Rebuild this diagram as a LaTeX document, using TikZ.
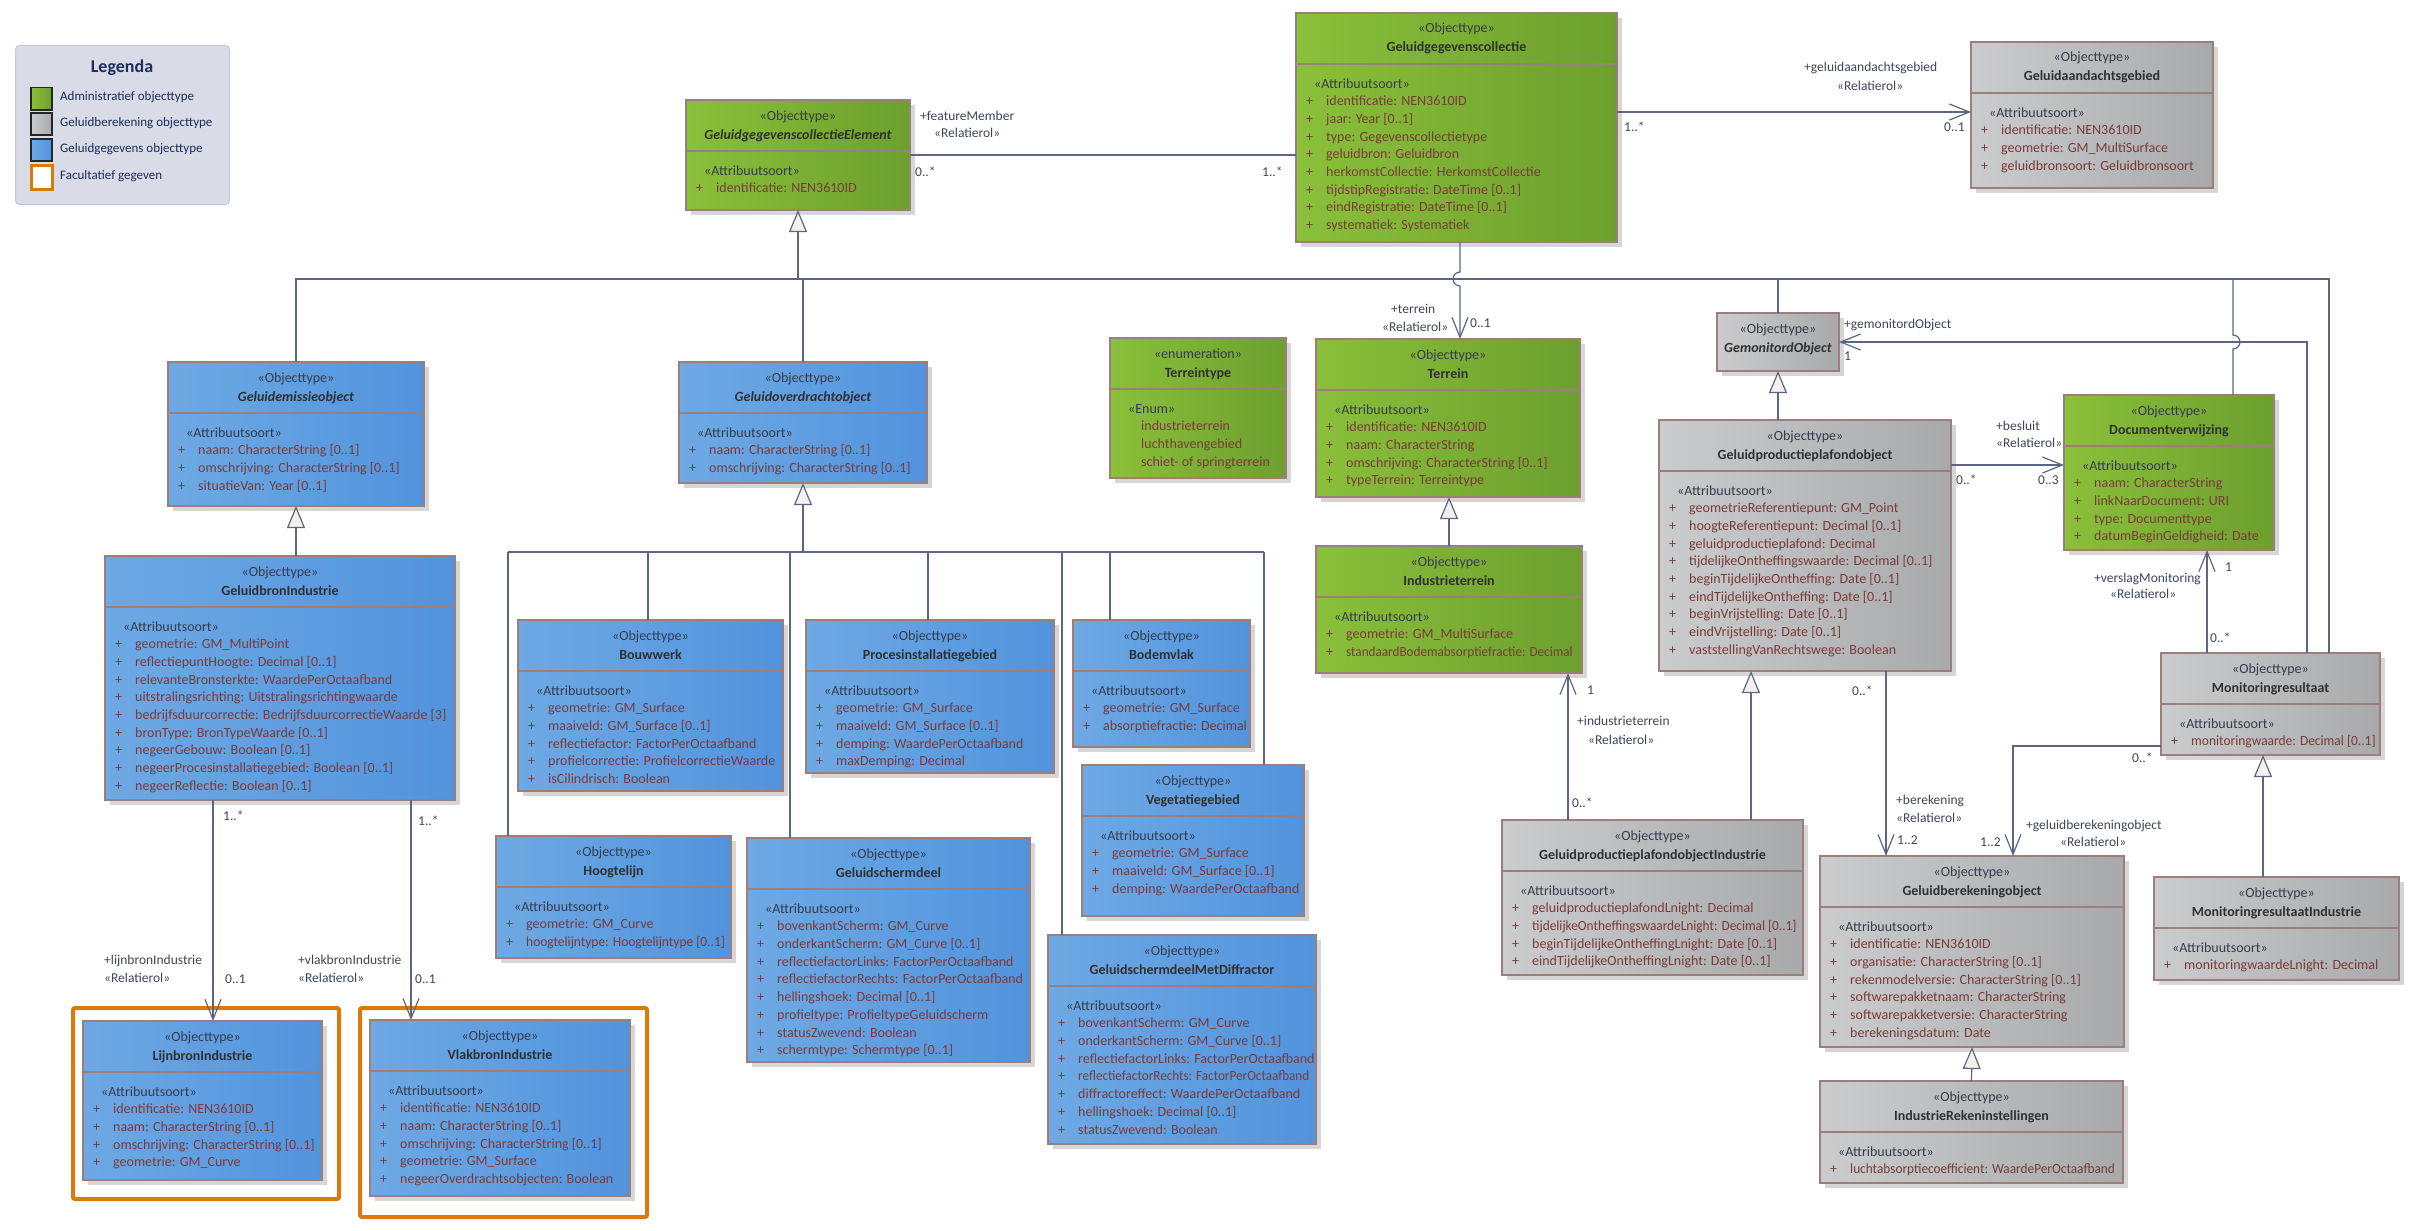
\documentclass[tikz,border=0pt]{standalone}
\usepackage{fontspec}
\setmainfont{Carlito}
\usepackage{graphicx}
\usepackage{tikz}
\usetikzlibrary{arrows.meta,calc,shadows}
\definecolor{eagreenL}{HTML}{8AC03A}
\definecolor{eagreenR}{HTML}{6C9F2E}
\definecolor{eablueL}{HTML}{6EA9E4}
\definecolor{eablueR}{HTML}{5193DD}
\definecolor{eagreyL}{HTML}{CBCCCE}
\definecolor{eagreyR}{HTML}{A8A9AB}
\definecolor{rand}{HTML}{9E7E7A}
\definecolor{verbinding}{HTML}{5B6782}
\definecolor{driehoek}{HTML}{F7EFEC}
\definecolor{attkleur}{HTML}{7A3B3B}
\definecolor{sterkleur}{HTML}{363C4C}
\definecolor{titelkleur}{HTML}{303030}
\definecolor{labelkleur}{HTML}{3F4656}
\definecolor{oranje}{HTML}{D97A0A}
\definecolor{legbg}{HTML}{D9DCE6}
\definecolor{legrand}{HTML}{C4C8D6}
\definecolor{legtekst}{HTML}{1C2C5C}
\tikzset{
  % klassen
  klasse/.style={anchor=north west,inner sep=0pt,outer sep=0pt,draw=rand,line width=2pt,
                 drop shadow={shadow xshift=5pt,shadow yshift=-5pt,fill=black!16,opacity=1}},
  groen/.style={klasse,left color=eagreenL,right color=eagreenR},
  blauw/.style={klasse,line width=1.5pt,left color=eablueL,right color=eablueR},
  grijs/.style={klasse,left color=eagreyL,right color=eagreyR},
  deler/.style={draw=rand,line width=1.5pt},
  stereo/.style={anchor=base,inner sep=0pt,font=\fontsize{14}{17.7}\selectfont,text=sterkleur},
  titel/.style={stereo,font=\fontsize{14}{17.7}\selectfont\bfseries,text=titelkleur},
  attrs/.style={anchor=north west,inner sep=0pt,align=left,
                font=\fontsize{14}{17.7}\selectfont,text=attkleur},
  facult/.style={anchor=north west,draw=oranje,line width=4pt,rounded corners=2pt,
                 fill=white,inner sep=0pt},
  % verbindingen
  con/.style={draw=verbinding,line width=1.2pt},
  gen/.style={con,-{Triangle[length=22pt,width=18pt,fill=driehoek]}},
  asso/.style={con,-{Straight Barb[length=20pt,width=16pt]}},
  lbl/.style={anchor=base west,inner sep=0pt,font=\fontsize{13.5}{16}\selectfont,text=labelkleur},
  % legenda
  staal/.style={anchor=north west,minimum width=21pt,minimum height=22pt,inner sep=0pt,
                draw=black!85,line width=1.5pt},
  legtxt/.style={anchor=west,inner sep=0pt,font=\fontsize{13}{15}\selectfont,text=legtekst},
}
\newcommand\attsoort{\hspace*{8pt}\textcolor{sterkleur}{«Attribuutsoort»}\strut}
\newcommand\kenmerk[1]{\makebox[20pt][l]{+}#1}
\newcommand\krap[2]{\scalebox{#1}[1]{#2}}
\newcommand\waarde[1]{\hspace*{21pt}#1}
\newcommand\kop[7]{%
  \node[#2,minimum width=#4pt,minimum height=#5pt] (#1) at (#3) {};
  \node[stereo] (#1-s) at ($(#1.north)+(0,20)$) {#6};
  \node[titel] (#1-t) at ($(#1.north)+(0,39)$) {#7};
}
\newcommand\klasse[8]{%
  \kop{#1}{#2}{#3}{#4}{#5}{#6}{#7}
  \draw[deler] ($(#1.north west)+(0,51)$) -- ($(#1.north east)+(0,51)$);
  \node[attrs] (#1-a) at ($(#1.north west)+(10,62.5)$) {#8};
}

\begin{document}
\begin{tikzpicture}[x=1pt,y=-1pt]
  \useasboundingbox (0,0) rectangle (2421,1231);
  \fill[white] (0,0) rectangle (2421,1231);

  % legenda
  \node[anchor=north west,minimum width=214pt,minimum height=159pt,inner sep=0pt,
        fill=legbg,draw=legrand,line width=1pt,rounded corners=4pt] (legenda) at (15,45) {};
  \node[font=\fontsize{18}{20}\selectfont\bfseries,text=legtekst] (legkop) at (122,68) {Legenda};
  \node[staal,left color=eagreenL,right color=eagreenR] (st1) at (30,87) {};
  \node[staal,left color=eagreyL,right color=eagreyR] (st2) at (30,112) {};
  \node[staal,left color=eablueL,right color=eablueR] (st3) at (30,138) {};
  \node[staal,draw=oranje,line width=3pt,fill=white,minimum height=24pt] (st4) at (30,164) {};
  \node[legtxt] (lt1) at (60,97) {Administratief objecttype};
  \node[legtxt] (lt2) at (60,123) {Geluidberekening objecttype};
  \node[legtxt] (lt3) at (60,149) {Geluidgegevens objecttype};
  \node[legtxt] (lt4) at (60,176) {Facultatief gegeven};

  % facultatieve kaders
  \node[facult,minimum width=266pt,minimum height=191pt] (lijnkader) at (71,1006) {};
  \node[facult,minimum width=287pt,minimum height=209pt] (vlakkader) at (358,1006) {};

  % klassen
  \klasse{ggce}{groen}{686,100}{224}{110}{«Objecttype»}{\textit{GeluidgegevenscollectieElement}}
    {\attsoort\\ \kenmerk{identificatie: NEN3610ID}}
  \klasse{gcol}{groen}{1296,13}{321}{229}{«Objecttype»}{Geluidgegevenscollectie}
    {\attsoort\\ \kenmerk{identificatie: NEN3610ID}\\ \kenmerk{jaar: Year [0..1]}\\
     \kenmerk{type: Gegevenscollectietype}\\ \kenmerk{geluidbron: Geluidbron}\\
     \kenmerk{herkomstCollectie: HerkomstCollectie}\\ \kenmerk{tijdstipRegistratie: DateTime [0..1]}\\
     \kenmerk{eindRegistratie: DateTime [0..1]}\\ \kenmerk{systematiek: Systematiek}}
  \klasse{gaag}{grijs}{1971,42}{242}{146}{«Objecttype»}{Geluidaandachtsgebied}
    {\attsoort\\ \kenmerk{identificatie: NEN3610ID}\\ \kenmerk{geometrie: GM\_MultiSurface}\\
     \kenmerk{geluidbronsoort: Geluidbronsoort}}
  \klasse{emis}{blauw}{168,362}{256}{144}{«Objecttype»}{\textit{Geluidemissieobject}}
    {\attsoort\\ \kenmerk{naam: CharacterString [0..1]}\\ \kenmerk{omschrijving: CharacterString [0..1]}\\
     \kenmerk{situatieVan: Year [0..1]}}
  \klasse{ovd}{blauw}{679,362}{248}{121}{«Objecttype»}{\textit{Geluidoverdrachtobject}}
    {\attsoort\\ \kenmerk{naam: CharacterString [0..1]}\\ \kenmerk{omschrijving: CharacterString [0..1]}}
  \klasse{gbi}{blauw}{105,556}{350}{244}{«Objecttype»}{GeluidbronIndustrie}
    {\attsoort\\ \kenmerk{geometrie: GM\_MultiPoint}\\ \kenmerk{reflectiepuntHoogte: Decimal [0..1]}\\
     \kenmerk{relevanteBronsterkte: WaardePerOctaafband}\\
     \kenmerk{uitstralingsrichting: Uitstralingsrichtingwaarde}\\
     \kenmerk{bedrijfsduurcorrectie: BedrijfsduurcorrectieWaarde [3]}\\
     \kenmerk{bronType: BronTypeWaarde [0..1]}\\ \kenmerk{negeerGebouw: Boolean [0..1]}\\
     \kenmerk{negeerProcesinstallatiegebied: Boolean [0..1]}\\ \kenmerk{negeerReflectie: Boolean [0..1]}}
  \klasse{bouw}{blauw}{518,620}{265}{171}{«Objecttype»}{Bouwwerk}
    {\attsoort\\ \kenmerk{geometrie: GM\_Surface}\\ \kenmerk{maaiveld: GM\_Surface [0..1]}\\
     \kenmerk{reflectiefactor: FactorPerOctaafband}\\ \kenmerk{profielcorrectie: ProfielcorrectieWaarde}\\
     \kenmerk{isCilindrisch: Boolean}}
  \klasse{proc}{blauw}{806,620}{248}{153}{«Objecttype»}{Procesinstallatiegebied}
    {\attsoort\\ \kenmerk{geometrie: GM\_Surface}\\ \kenmerk{maaiveld: GM\_Surface [0..1]}\\
     \kenmerk{demping: WaardePerOctaafband}\\ \kenmerk{maxDemping: Decimal}}
  \klasse{bodem}{blauw}{1073,620}{177}{127}{«Objecttype»}{Bodemvlak}
    {\attsoort\\ \kenmerk{geometrie: GM\_Surface}\\ \kenmerk{absorptiefractie: Decimal}}
  \klasse{veg}{blauw}{1082,765}{222}{151}{«Objecttype»}{Vegetatiegebied}
    {\attsoort\\ \kenmerk{geometrie: GM\_Surface}\\ \kenmerk{maaiveld: GM\_Surface [0..1]}\\
     \kenmerk{demping: WaardePerOctaafband}}
  \klasse{hoog}{blauw}{496,836}{235}{122}{«Objecttype»}{Hoogtelijn}
    {\attsoort\\ \kenmerk{geometrie: GM\_Curve}\\ \kenmerk{\krap{0.96}{hoogtelijntype: Hoogtelijntype [0..1]}}}
  \klasse{gsd}{blauw}{747,838}{283}{224}{«Objecttype»}{Geluidschermdeel}
    {\attsoort\\ \kenmerk{bovenkantScherm: GM\_Curve}\\ \kenmerk{onderkantScherm: GM\_Curve [0..1]}\\
     \kenmerk{reflectiefactorLinks: FactorPerOctaafband}\\ \kenmerk{reflectiefactorRechts: FactorPerOctaafband}\\
     \kenmerk{hellingshoek: Decimal [0..1]}\\ \kenmerk{profieltype: ProfieltypeGeluidscherm}\\
     \kenmerk{statusZwevend: Boolean}\\ \kenmerk{schermtype: Schermtype [0..1]}}
  \klasse{gsmd}{blauw}{1048,935}{268}{209}{«Objecttype»}{GeluidschermdeelMetDiffractor}
    {\attsoort\\ \kenmerk{bovenkantScherm: GM\_Curve}\\ \kenmerk{onderkantScherm: GM\_Curve [0..1]}\\
     \kenmerk{reflectiefactorLinks: FactorPerOctaafband}\\
     \kenmerk{\krap{0.94}{reflectiefactorRechts: FactorPerOctaafband}}\\
     \kenmerk{diffractoreffect: WaardePerOctaafband}\\ \kenmerk{hellingshoek: Decimal [0..1]}\\
     \kenmerk{statusZwevend: Boolean}}
  \klasse{ttype}{groen}{1110,338}{176}{140}{«enumeration»}{Terreintype}
    {\hspace*{8pt}\textcolor{sterkleur}{«Enum»}\strut\\ \waarde{industrieterrein}\\
     \waarde{luchthavengebied}\\ \waarde{schiet- of springterrein}}
  \klasse{terrein}{groen}{1316,339}{264}{158}{«Objecttype»}{Terrein}
    {\attsoort\\ \kenmerk{identificatie: NEN3610ID}\\ \kenmerk{naam: CharacterString}\\
     \kenmerk{omschrijving: CharacterString [0..1]}\\ \kenmerk{typeTerrein: Terreintype}}
  \klasse{indt}{groen}{1316,546}{266}{127}{«Objecttype»}{Industrieterrein}
    {\attsoort\\ \kenmerk{geometrie: GM\_MultiSurface}\\
     \kenmerk{\krap{0.94}{standaardBodemabsorptiefractie: Decimal}}}
  \kop{gemon}{grijs}{1717,313}{122}{58}{«Objecttype»}{\textit{GemonitordObject}}
  \klasse{gppo}{grijs}{1659,420}{292}{251}{«Objecttype»}{Geluidproductieplafondobject}
    {\attsoort\\ \kenmerk{geometrieReferentiepunt: GM\_Point}\\ \kenmerk{hoogteReferentiepunt: Decimal [0..1]}\\
     \kenmerk{geluidproductieplafond: Decimal}\\ \kenmerk{tijdelijkeOntheffingswaarde: Decimal [0..1]}\\
     \kenmerk{beginTijdelijkeOntheffing: Date [0..1]}\\ \kenmerk{eindTijdelijkeOntheffing: Date [0..1]}\\
     \kenmerk{beginVrijstelling: Date [0..1]}\\ \kenmerk{eindVrijstelling: Date [0..1]}\\
     \kenmerk{vaststellingVanRechtswege: Boolean}}
  \klasse{docv}{groen}{2064,395}{210}{155}{«Objecttype»}{Documentverwijzing}
    {\attsoort\\ \kenmerk{naam: CharacterString}\\ \kenmerk{linkNaarDocument: URI}\\
     \kenmerk{type: Documenttype}\\ \kenmerk{datumBeginGeldigheid: Date}}
  \klasse{monres}{grijs}{2161,653}{219}{102}{«Objecttype»}{Monitoringresultaat}
    {\attsoort\\ \kenmerk{\krap{0.96}{monitoringwaarde: Decimal [0..1]}}}
  \klasse{gppoi}{grijs}{1502,820}{301}{155}{«Objecttype»}{GeluidproductieplafondobjectIndustrie}
    {\attsoort\\ \kenmerk{geluidproductieplafondLnight: Decimal}\\
     \kenmerk{\krap{0.95}{tijdelijkeOntheffingswaardeLnight: Decimal [0..1]}}\\
     \kenmerk{beginTijdelijkeOntheffingLnight: Date [0..1]}\\
     \kenmerk{eindTijdelijkeOntheffingLnight: Date [0..1]}}
  \klasse{gbo}{grijs}{1820,856}{304}{191}{«Objecttype»}{Geluidberekeningobject}
    {\attsoort\\ \kenmerk{identificatie: NEN3610ID}\\ \kenmerk{organisatie: CharacterString [0..1]}\\
     \kenmerk{rekenmodelversie: CharacterString [0..1]}\\ \kenmerk{softwarepakketnaam: CharacterString}\\
     \kenmerk{softwarepakketversie: CharacterString}\\ \kenmerk{berekeningsdatum: Date}}
  \klasse{irk}{grijs}{1820,1081}{303}{102}{«Objecttype»}{IndustrieRekeninstellingen}
    {\attsoort\\ \kenmerk{\krap{0.95}{luchtabsorptiecoefficient: WaardePerOctaafband}}}
  \klasse{monresi}{grijs}{2154,877}{245}{103}{«Objecttype»}{MonitoringresultaatIndustrie}
    {\attsoort\\ \kenmerk{monitoringwaardeLnight: Decimal}}
  \klasse{lijn}{blauw}{83,1021}{239}{159}{«Objecttype»}{LijnbronIndustrie}
    {\attsoort\\ \kenmerk{identificatie: NEN3610ID}\\ \kenmerk{naam: CharacterString [0..1]}\\
     \kenmerk{omschrijving: CharacterString [0..1]}\\ \kenmerk{geometrie: GM\_Curve}}
  \klasse{vlak}{blauw}{370,1020}{260}{176}{«Objecttype»}{VlakbronIndustrie}
    {\attsoort\\ \kenmerk{identificatie: NEN3610ID}\\ \kenmerk{naam: CharacterString [0..1]}\\
     \kenmerk{omschrijving: CharacterString [0..1]}\\ \kenmerk{geometrie: GM\_Surface}\\
     \kenmerk{negeerOverdrachtsobjecten: Boolean}}

  % hulppunten
  \coordinate (bus) at (0,279);
  \coordinate (xMon) at (2329,0);
  \coordinate (xGm) at (2307,0);
  \coordinate (xVm) at (2207,0);
  \coordinate (xIt) at (1568,0);
  \coordinate (xGp) at (1751,0);
  \coordinate (xBer) at (1886,0);
  \coordinate (xMri) at (2263,0);
  \coordinate (xLb) at (213,0);
  \coordinate (xVb) at (411,0);
  \coordinate (yGaa) at (0,112);
  \coordinate (yBes) at (0,465);
  \coordinate (hopT) at (1460,279);
  \coordinate (hopD) at (2233,342);
  \coordinate (kGbo) at (2013,746);

  % generalisaties
  \draw[con] (emis.north) -- (emis.north |- bus) -- (bus -| xMon) -- (monres.north -| xMon);
  \draw[gen] (ggce.south |- bus) -- (ggce.south);
  \draw[con] (ovd.north) -- (ovd.north |- bus);
  \draw[con] (gemon.north) -- (gemon.north |- bus);
  \draw[con] (bus -| hopD) -- ([yshift=7pt]hopD) arc[start angle=90,end angle=-90,radius=7pt]
    -- (docv.north -| hopD);
  \draw[gen] (gbi.north -| emis.south) -- (emis.south);
  \draw[gen] (gppo.north -| gemon.south) -- (gemon.south);
  \draw[gen] (indt.north) -- (indt.north |- terrein.south);
  \draw[gen] (gppoi.north -| xGp) -- (gppo.south -| xGp);
  \draw[gen] (irk.north) -- (gbo.south);
  \draw[gen] (monresi.north -| xMri) -- (monres.south -| xMri);
  \foreach \b/\x in {hoog/508,bouw/648,gsd/790,proc/928,gsmd/1062,bodem/1110,veg/1264}{
    \coordinate (v\b) at (\x,552);
    \draw[con] (v\b) -- (\b.north -| v\b);
  }
  \draw[con] (vhoog) -- (vveg);
  \draw[gen] (ovd.south |- vhoog) -- (ovd.south);

  % associaties
  \draw[con] (ggce.east) -- (ggce.east -| gcol.west);
  \draw[asso] (gcol.east |- yGaa) -- (gaag.west |- yGaa);
  \draw[asso] (gcol.south -| hopT) -- ([yshift=7pt]hopT) arc[start angle=90,end angle=270,radius=7pt]
    -- (terrein.north -| hopT);
  \draw[asso] (monres.north -| xGm) |- (gemon.east);
  \draw[asso] (gppo.east |- yBes) -- (docv.west |- yBes);
  \draw[asso] (monres.north -| xVm) -- (docv.south -| xVm);
  \draw[asso] (gppoi.north -| xIt) -- (indt.south -| xIt);
  \draw[asso] (gppo.south -| xBer) -- (gbo.north -| xBer);
  \draw[asso] (monres.west |- kGbo) -| (gbo.north -| kGbo);
  \draw[asso] (gbi.south -| xLb) -- (lijn.north -| xLb);
  \draw[asso] (gbi.south -| xVb) -- (vlak.north -| xVb);

  % rollen en multipliciteiten
  \node[lbl] (fm1) at (920,120) {+featureMember};
  \node[lbl] (fm2) at (934,137) {«Relatierol»};
  \node[lbl] (fm3) at (915,176) {0..*};
  \node[lbl] (fm4) at (1262,176) {1..*};
  \node[lbl] (ga1) at (1804,72) {+geluidaandachtsgebied};
  \node[lbl] (ga2) at (1837,90) {«Relatierol»};
  \node[lbl] (ga3) at (1624,131) {1..*};
  \node[lbl] (ga4) at (1944,131) {0..1};
  \node[lbl] (te1) at (1391,313) {+terrein};
  \node[lbl] (te2) at (1382,331) {«Relatierol»};
  \node[lbl] (te3) at (1470,327) {0..1};
  \node[lbl] (gm1) at (1844,328) {+gemonitordObject};
  \node[lbl] (gm2) at (1844,360) {1};
  \node[lbl] (be1) at (1996,430) {+besluit};
  \node[lbl] (be2) at (1996,447) {«Relatierol»};
  \node[lbl] (be3) at (1956,484) {0..*};
  \node[lbl] (be4) at (2038,484) {0..3};
  \node[lbl] (vm1) at (2225,571) {1};
  \node[lbl,anchor=base east] (vm2) at (2201,582) {+verslagMonitoring};
  \node[lbl] (vm3) at (2110,598) {«Relatierol»};
  \node[lbl] (vm4) at (2210,642) {0..*};
  \node[lbl] (it1) at (1587,694) {1};
  \node[lbl] (it2) at (1577,725) {+industrieterrein};
  \node[lbl] (it3) at (1588,744) {«Relatierol»};
  \node[lbl] (it4) at (1572,807) {0..*};
  \node[lbl] (br1) at (1852,695) {0..*};
  \node[lbl] (br2) at (1896,804) {+berekening};
  \node[lbl] (br3) at (1896,822) {«Relatierol»};
  \node[lbl] (br4) at (1897,844) {1..2};
  \node[lbl] (gb1) at (2132,762) {0..*};
  \node[lbl] (gb2) at (2026,829) {+geluidberekeningobject};
  \node[lbl] (gb3) at (2060,846) {«Relatierol»};
  \node[lbl] (gb4) at (1980,846) {1..2};
  \node[lbl] (lb1) at (223,820) {1..*};
  \node[lbl] (lb2) at (104,964) {+lijnbronIndustrie};
  \node[lbl] (lb3) at (104,982) {«Relatierol»};
  \node[lbl] (lb4) at (225,983) {0..1};
  \node[lbl] (vb1) at (418,825) {1..*};
  \node[lbl] (vb2) at (298,964) {+vlakbronIndustrie};
  \node[lbl] (vb3) at (298,982) {«Relatierol»};
  \node[lbl] (vb4) at (415,983) {0..1};
\end{tikzpicture}
\end{document}
